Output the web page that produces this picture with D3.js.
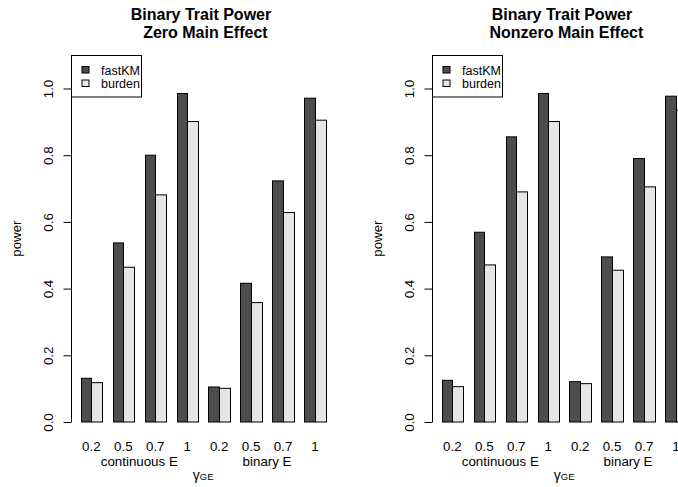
<!DOCTYPE html>
<html>
<head>
<meta charset="utf-8">
<script src="https://cdn.jsdelivr.net/npm/d3@7"></script>
<style>
  html, body { margin: 0; padding: 0; background: #fff; overflow: hidden; }
  svg { display: block; font-family: "Liberation Sans", Arial, Helvetica, sans-serif; }
  .title { white-space: pre; }
</style>
</head>
<body>
<svg id="chart" width="678" height="487"></svg>
<script>
// gamma_GE levels within each environment type
const gammaLabels = ["0.2", "0.5", "0.7", "1", "0.2", "0.5", "0.7", "1"];
const envLabels = ["continuous E", "binary E"];
const methods = ["fastKM", "burden"];
const methodColors = ["#4d4d4d", "#e6e6e6"];
const yTicks = [0, 0.2, 0.4, 0.6, 0.8, 1.0];

// power, zero main effect
const zeroFastKM = [0.131, 0.537, 0.800, 0.985, 0.105, 0.416, 0.723, 0.971];
const zeroBurden = [0.118, 0.464, 0.681, 0.901, 0.101, 0.358, 0.628, 0.905];
// power, nonzero main effect
const nonzeroFastKM = [0.125, 0.569, 0.855, 0.985, 0.121, 0.495, 0.790, 0.977];
const nonzeroBurden = [0.106, 0.471, 0.690, 0.901, 0.115, 0.455, 0.705, 0.935];

const panels = [
  { line1: "Binary Trait Power ", line2: " Zero Main Effect", series: [zeroFastKM, zeroBurden], dx: 0 },
  { line1: "Binary Trait Power ", line2: " Nonzero Main Effect", series: [nonzeroFastKM, nonzeroBurden], dx: 361 }
];

const svg = d3.select("#chart");

panels.forEach(p => {
  const g = svg.append("g").attr("transform", `translate(${p.dx},0)`);

  // barplot units: group i occupies [1+3i, 3+3i], one unit of space between groups
  const x = d3.scaleLinear().domain([1, 24]).range([80.7, 325.65]);
  const y = d3.scaleLinear().domain([0, 1]).range([422, 88.5]);
  const plotLeft = x(0.08), plotRight = x(24.92);
  const cx = (plotLeft + plotRight) / 2;

  // title
  g.append("text").attr("class", "title")
    .attr("x", cx).attr("y", 20).attr("text-anchor", "middle")
    .attr("font-size", 16).attr("font-weight", "bold").text(p.line1);
  g.append("text").attr("class", "title")
    .attr("x", cx).attr("y", 37.5).attr("text-anchor", "middle")
    .attr("font-size", 16).attr("font-weight", "bold").text(p.line2);

  // bars
  p.series.forEach((vals, s) => {
    g.append("g").selectAll("rect").data(vals).join("rect")
      .attr("x", (d, i) => Math.round(x(1 + 3 * i + s)) + 0.5)
      .attr("width", (d, i) => Math.round(x(2 + 3 * i + s)) - Math.round(x(1 + 3 * i + s)))
      .attr("y", d => y(d))
      .attr("height", d => y(0) - y(d))
      .attr("fill", methodColors[s])
      .attr("stroke", "#000")
      .attr("stroke-width", 1);
  });

  // y axis
  const axisX = Math.round(plotLeft) + 0.5;
  const yAxis = g.append("g").attr("transform", `translate(${axisX},0)`)
    .call(d3.axisLeft(y).tickValues(yTicks).tickSize(8).tickFormat(d3.format(".1f")));
  yAxis.select(".domain").attr("d", `M0,${y(0)}V${y(1)}`).attr("stroke", "#000");
  yAxis.selectAll(".tick line").attr("stroke", "#000");
  yAxis.selectAll(".tick text")
    .attr("font-family", "Liberation Sans, Arial, sans-serif")
    .attr("font-size", 13.33).attr("fill", "#000")
    .attr("x", null).attr("dy", null)
    .attr("text-anchor", "middle")
    .attr("transform", "translate(-19,0) rotate(-90)");

  // y label
  g.append("text")
    .attr("transform", `translate(21,${(40.5 + 436.7) / 2}) rotate(-90)`)
    .attr("text-anchor", "middle").attr("font-size", 13.33).text("power");

  // x category labels
  g.append("g").selectAll("text").data(gammaLabels).join("text")
    .attr("x", (d, i) => x(2 + 3 * i))
    .attr("y", 451).attr("text-anchor", "middle").attr("font-size", 13.33)
    .text(d => d);
  g.append("g").selectAll("text").data(envLabels).join("text")
    .attr("x", (d, i) => (x(5 + 12 * i) + x(8 + 12 * i)) / 2)
    .attr("y", 466).attr("text-anchor", "middle").attr("font-size", 13.33)
    .text(d => d);

  // x axis title: gamma_GE
  const xl = g.append("text").attr("x", cx).attr("y", 479.5).attr("text-anchor", "middle");
  xl.append("tspan").attr("font-size", 14).text("γ");
  xl.append("tspan").attr("font-size", 9.5).attr("dy", 0.5).text("GE");

  // legend
  const lg = g.append("g").attr("transform", `translate(${axisX},55.5)`);
  lg.append("rect").attr("width", 70).attr("height", 41.5)
    .attr("fill", "#fff").attr("stroke", "#000");
  methods.forEach((m, i) => {
    lg.append("rect").attr("x", 10.5).attr("y", 11 + i * 13.5)
      .attr("width", 7).attr("height", 6.5)
      .attr("fill", methodColors[i]).attr("stroke", "#000");
    lg.append("text").attr("x", 29.5).attr("y", 19 + i * 13)
      .attr("font-size", 12.5).text(m);
  });
});
</script>
</body>
</html>
